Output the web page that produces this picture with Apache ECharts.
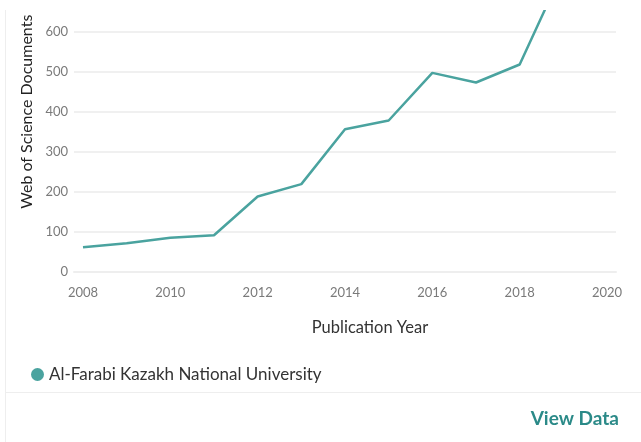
<!DOCTYPE html>
<html>
<head>
<meta charset="utf-8">
<script src="https://cdn.jsdelivr.net/npm/echarts@6/dist/echarts.min.js"></script>
<style>
html,body{margin:0;padding:0;background:#fff;width:641px;height:442px;overflow:hidden;position:relative;}
#chart{position:absolute;left:0;top:-60px;width:641px;height:502px;}
#topmask{position:absolute;left:0;top:0;width:641px;height:10px;background:#fff;z-index:5;}
#border{position:absolute;left:5px;top:10px;width:1px;height:432px;background:#eeeeee;z-index:5;}
</style>
</head>
<body>
<div id="chart"></div>
<div id="topmask"></div>
<div id="border"></div>
<script>
const years = [2008, 2009, 2010, 2011, 2012, 2013, 2014, 2015, 2016, 2017, 2018, 2019];
const documents = [61, 71, 85, 91, 188, 219, 356, 378, 497, 473, 518, 755];
const xTickLabels = [2008, 2010, 2012, 2014, 2016, 2018, 2020];
const seriesName = 'Al-Farabi Kazakh National University';

const font = 'Lato, "Open Sans", sans-serif';
const chart = echarts.init(document.getElementById('chart'), null, {renderer: 'canvas'});
chart.setOption({
  animation: false,
  textStyle: {fontFamily: font},
  grid: {left: 74, right: 25, top: 11.7, bottom: 170.3, containLabel: false},
  xAxis: {
    type: 'value',
    min: 2007.794,
    max: 2020.206,
    offset: 3,
    name: 'Publication Year',
    nameLocation: 'middle',
    nameGap: 44,
    nameTextStyle: {color: '#333', fontSize: 16.5, fontFamily: font, padding: [0, 0, 0, 50]},
    axisLine: {show: true, lineStyle: {color: '#eeeeee', width: 2}},
    axisTick: {show: false},
    splitLine: {show: false},
    axisLabel: {
      customValues: xTickLabels,
      color: '#7a7a7a', fontSize: 13, fontFamily: font, margin: 12,
      formatter: v => String(v)
    }
  },
  yAxis: {
    type: 'value',
    min: 0, max: 800, interval: 100,
    name: 'Web of Science Documents',
    nameLocation: 'middle',
    nameGap: 39,
    nameTextStyle: {color: '#222', fontSize: 16, fontFamily: font},
    axisLine: {show: false},
    axisTick: {show: false},
    splitLine: {show: true, lineStyle: {color: '#f0f0f0', width: 2}},
    axisLabel: {color: '#7a7a7a', fontSize: 13, fontFamily: font, margin: 6}
  },
  legend: {
    left: 26, top: 421,
    icon: 'circle', itemWidth: 13, itemHeight: 13, itemGap: 10,
    textStyle: {color: '#333', fontSize: 17, fontFamily: font},
    data: [seriesName]
  },
  graphic: [
    {type: 'rect', left: 5, top: 452, shape: {width: 636, height: 1}, style: {fill: '#eeeeee'}},
    {type: 'text', right: 22, top: 469, style: {text: 'View Data', fill: '#2b8a88', font: 'bold 19px ' + font}}
  ],
  series: [{
    name: seriesName,
    type: 'line',
    data: years.map((y, i) => [y, documents[i]]),
    symbol: 'none',
    clip: true,
    lineStyle: {color: '#4aa39f', width: 2.5},
    itemStyle: {color: '#4aa39f'}
  }]
});
</script>
</body>
</html>
